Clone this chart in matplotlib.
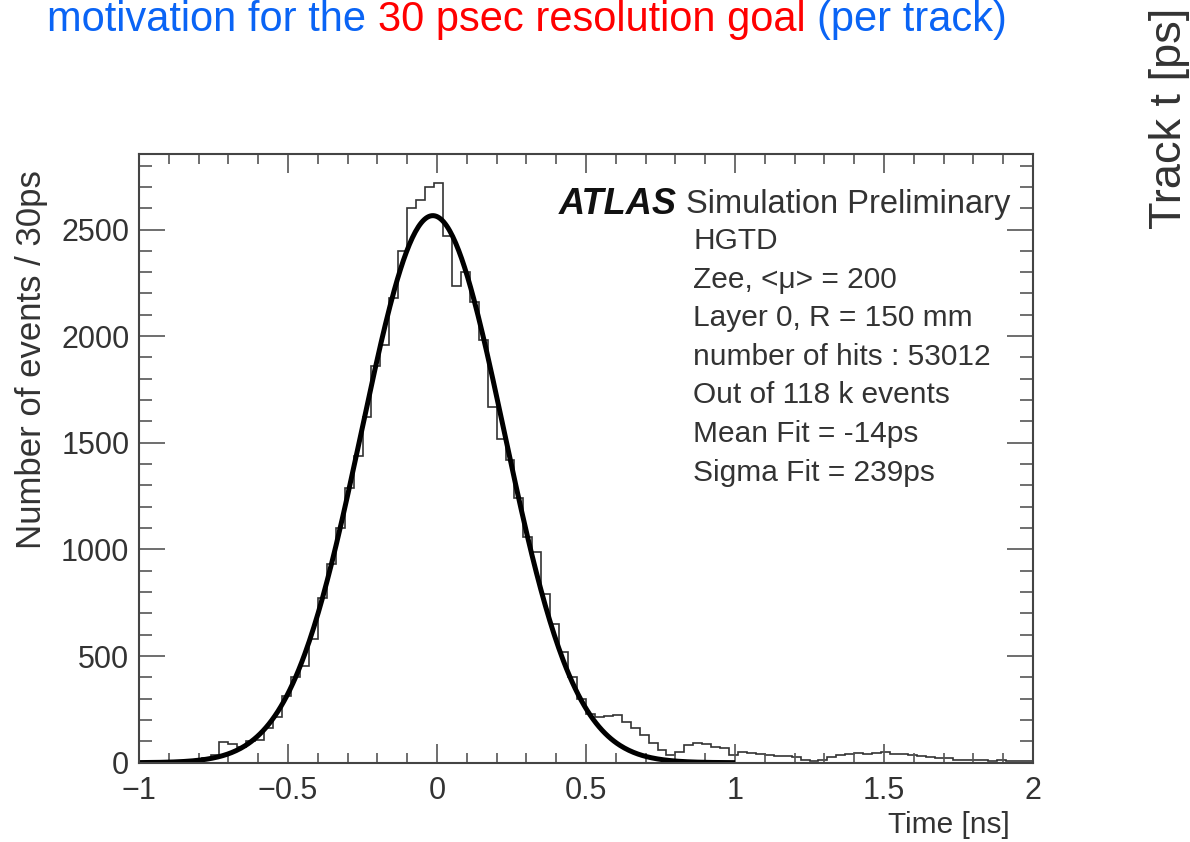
import matplotlib
matplotlib.use('Agg')
import matplotlib.pyplot as plt
import numpy as np

plt.rcParams['font.family'] = ['Liberation Sans', 'DejaVu Sans']

# histogram: 100 bins of 30 ps between -1 and 2 ns
bin_lo, bin_hi, n_bins = -1.0, 2.0, 100
hist_counts = [
    2, 3, 3, 5, 6, 8, 12, 20, 38, 95,
    90, 72, 100, 105, 165, 215, 315, 400, 455, 580,
    770, 930, 1100, 1290, 1440, 1620, 1860, 1960, 2180, 2400,
    2600, 2640, 2700, 2720, 2470, 2235, 2300, 2160, 1980, 1670,
    1520, 1420, 1240, 1060, 990, 790, 650, 520, 400, 300,
    228, 216, 218, 224, 192, 161, 130, 91, 60, 36,
    50, 85, 92, 90, 75, 70, 35, 50, 45, 40,
    35, 30, 30, 25, 15, 10, 15, 25, 35, 40,
    45, 40, 45, 50, 40, 40, 35, 30, 25, 20,
    20, 15, 15, 12, 12, 10, 12, 10, 10, 8,
]

# gaussian fit (values from the legend)
fit_amp = 2565
fit_mean = -0.014   # ns
fit_sigma = 0.239   # ns
fit_range = (-1.0, 1.0)

xticks = [-1, -0.5, 0, 0.5, 1, 1.5, 2]
xtick_labels = ['\u22121', '\u22120.5', '0', '0.5', '1', '1.5', '2']
yticks = [0, 500, 1000, 1500, 2000, 2500]
ytick_labels = ['0', '500', '1000', '1500', '2000', '2500']

stats_lines = ['HGTD', 'Zee, <\u03bc> = 200', 'Layer 0, R = 150 mm',
               'number of hits : 53012', 'Out of 118 k events',
               'Mean Fit = -14ps', 'Sigma Fit = 239ps']

title_parts = ['motivation for the', '30 psec resolution goal', '(per track)']
title_colors = ['#0a64f5', '#ff0000', '#0a64f5']

W, H = 1190, 842
fig = plt.figure(figsize=(W / 100, H / 100), dpi=100)
ax = fig.add_axes([139 / W, 1 - 762.7 / H, (1033 - 139) / W, (762.7 - 154) / H])

edges = np.linspace(bin_lo, bin_hi, n_bins + 1)
ax.stairs(hist_counts, edges, color='#333333', linewidth=1.2)

fx = np.linspace(fit_range[0], fit_range[1], 400)
fy = fit_amp * np.exp(-0.5 * ((fx - fit_mean) / fit_sigma) ** 2)
ax.plot(fx, fy, color='black', linewidth=3.6, solid_capstyle='butt')

ax.set_xlim(-1, 2)
ax.set_ylim(0, 2854)
ax.set_xticks(xticks)
ax.set_xticklabels(xtick_labels)
ax.set_yticks(yticks)
ax.set_yticklabels(ytick_labels)
ax.xaxis.set_minor_locator(matplotlib.ticker.MultipleLocator(0.1))
ax.yaxis.set_minor_locator(matplotlib.ticker.MultipleLocator(100))

txt = '#333333'
ax.tick_params(which='both', direction='in', top=True, right=True,
               color='#555555', width=1.2, labelcolor=txt, labelsize=22)
ax.tick_params(axis='x', which='major', length=14, pad=9.5)
ax.tick_params(axis='x', which='minor', length=7)
ax.tick_params(axis='y', which='major', length=19, pad=7)
ax.tick_params(axis='y', which='minor', length=9.5)
for sp in ax.spines.values():
    sp.set_color('#444444')
    sp.set_linewidth(1.5)

ax.set_xlabel('Time [ns]', fontsize=21.5, color=txt, ha='right', va='center')
ax.xaxis.set_label_coords(0.974, -0.102)
ax.set_ylabel('Number of events / 30ps', fontsize=25, color=txt, ha='right', va='center')
ax.yaxis.set_label_coords(-0.12, 0.974)

# ATLAS label and statistics box
fig.text(677 / W, 1 - 205 / H, 'ATLAS', fontsize=26, fontweight='bold',
         style='italic', color='#111111', ha='right', va='center')
fig.text(1010 / W, 1 - 205 / H, 'Simulation Preliminary', fontsize=23.5,
         color=txt, ha='right', va='center')
for k, line in enumerate(stats_lines):
    fig.text(693 / W, 1 - (241 + k * 38.6) / H, line, fontsize=21.5,
             color=txt, ha='left', va='center')

# slide title in two colours
renderer = fig.canvas.get_renderer()
x = 47
tsize = 30
for part, col in zip(title_parts, title_colors):
    t = fig.text(x / W, 1 - 31 / H, part, fontsize=tsize, color=col,
                 ha='left', va='baseline')
    bb = t.get_window_extent(renderer)
    x = bb.x1 + 0.278 * tsize * 100 / 72

# cut-off axis label from the neighbouring slide plot
fig.text(1169 / W, 1 - 229 / H, 'Track t [ps]', fontsize=32.5, color='#333333',
         rotation=90, ha='center', va='bottom')

fig.savefig('out.png', dpi=100)
